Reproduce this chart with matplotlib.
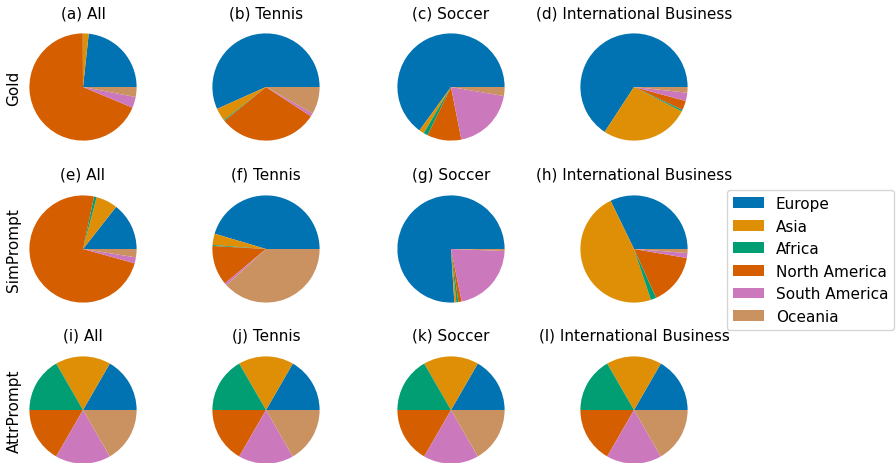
import numpy as np
import matplotlib
matplotlib.use("Agg")
import matplotlib.pyplot as plt

regions = ["Europe", "Asia", "Africa", "North America", "South America", "Oceania"]
colors = ["#0173b2", "#de8f05", "#029e73", "#d55e00", "#cc78bc", "#ca9161"]
domains = ["All", "Tennis", "Soccer", "International Business"]
methods = ["Gold", "SimPrompt", "AttrPrompt"]

# percentages per region (order as in regions)
gold_all = [23.3, 1.7, 0.1, 68.6, 3.3, 3.0]
gold_tennis = [56.7, 3.9, 0.3, 29.9, 1.0, 8.2]
gold_soccer = [65.0, 1.5, 1.3, 10.3, 19.2, 2.7]
gold_business = [65.8, 26.7, 0.5, 2.8, 2.5, 1.7]

sim_all = [14.4, 6.5, 0.8, 74.0, 1.8, 2.5]
sim_tennis = [45.4, 3.4, 0.3, 12.0, 0.7, 38.2]
sim_soccer = [76.0, 0.6, 0.6, 1.0, 21.2, 0.6]
sim_business = [32.2, 47.9, 1.7, 15.5, 1.5, 1.2]

attr_all = [1, 1, 1, 1, 1, 1]
attr_tennis = [1, 1, 1, 1, 1, 1]
attr_soccer = [1, 1, 1, 1, 1, 1]
attr_business = [1, 1, 1, 1, 1, 1]

rows = [
    [gold_all, gold_tennis, gold_soccer, gold_business],
    [sim_all, sim_tennis, sim_soccer, sim_business],
    [attr_all, attr_tennis, attr_soccer, attr_business],
]

W, H = 896, 464
fig = plt.figure(figsize=(W / 100, H / 100), dpi=100)

col_x = [83, 266, 451, 634]
row_y = [88, 250, 411]
box = 134

letters = "abcdefghijkl"
wedges = None
for i, row in enumerate(rows):
    for j, vals in enumerate(row):
        cx, cy = col_x[j], row_y[i]
        ax = fig.add_axes([(cx - box / 2) / W, 1 - (cy + box / 2) / H, box / W, box / H])
        wedges, _ = ax.pie(vals, colors=colors, startangle=0)
        ax.set_title(f"({letters[i * 4 + j]}) {domains[j]}", fontsize=11, pad=2)
    fig.text(14 / W, 1 - row_y[i] / H, methods[i], rotation=90, fontsize=11,
             ha="center", va="center")

fig.legend(wedges, regions, loc="center right", bbox_to_anchor=(1.0, 0.4375),
           fontsize=11, borderaxespad=0.1)

fig.savefig("out.png", dpi=100)
